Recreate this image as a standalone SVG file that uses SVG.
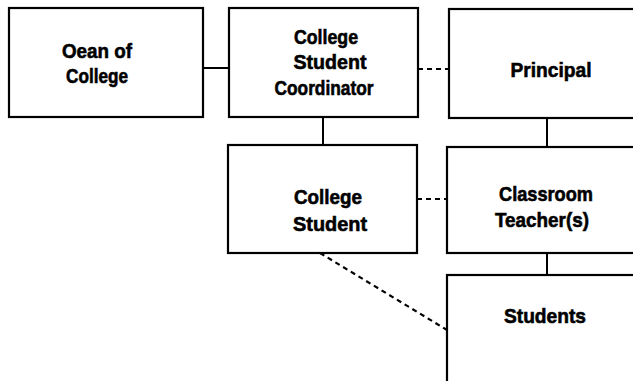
<svg xmlns="http://www.w3.org/2000/svg" width="633" height="381" viewBox="0 0 633 381">
  <style>
    .box { fill: #fff; stroke: #000; stroke-width: 2.2; }
    .solid { stroke: #000; stroke-width: 2; fill: none; }
    .dash { stroke: #000; stroke-width: 2.2; fill: none; stroke-dasharray: 5 4; }
    .lbl { font-family: "Liberation Sans", Arial, sans-serif; font-weight: bold; font-size: 20.5px; fill: #000; stroke: #000; stroke-width: 0.6; text-anchor: middle; }
  </style>
  <rect width="633" height="381" fill="#fff"/>

  <!-- connectors -->
  <g id="connectors">
    <line class="solid" x1="203" y1="68" x2="229" y2="68"/>
    <line class="dash" x1="418" y1="69" x2="449" y2="69"/>
    <line class="solid" x1="323" y1="117" x2="323" y2="145"/>
    <line class="solid" x1="547" y1="118" x2="547" y2="147"/>
    <line class="dash" x1="417" y1="199" x2="447" y2="199"/>
    <line class="solid" x1="547" y1="253" x2="547" y2="275"/>
    <line class="dash" x1="320" y1="253" x2="447" y2="330"/>
  </g>

  <g id="dean">
    <rect class="box" x="9" y="8" width="194" height="109"/>
    <text class="lbl" x="97" y="58" textLength="70" lengthAdjust="spacingAndGlyphs">Oean of</text>
    <text class="lbl" x="97" y="83" textLength="62" lengthAdjust="spacingAndGlyphs">College</text>
  </g>

  <g id="coordinator">
    <rect class="box" x="229" y="8" width="189" height="109"/>
    <text class="lbl" x="326" y="44" textLength="64" lengthAdjust="spacingAndGlyphs">College</text>
    <text class="lbl" x="330" y="69" textLength="73" lengthAdjust="spacingAndGlyphs">Student</text>
    <text class="lbl" x="324" y="95" textLength="99" lengthAdjust="spacingAndGlyphs">Coordinator</text>
  </g>

  <g id="principal">
    <rect class="box" x="449" y="9" width="200" height="109"/>
    <text class="lbl" x="551" y="77" textLength="81" lengthAdjust="spacingAndGlyphs">Principal</text>
  </g>

  <g id="college-student">
    <rect class="box" x="228" y="145" width="189" height="108"/>
    <text class="lbl" x="328" y="204" textLength="68" lengthAdjust="spacingAndGlyphs">College</text>
    <text class="lbl" x="330" y="231" textLength="74" lengthAdjust="spacingAndGlyphs">Student</text>
  </g>

  <g id="teacher">
    <rect class="box" x="447" y="147" width="200" height="106"/>
    <text class="lbl" x="546" y="201" textLength="94" lengthAdjust="spacingAndGlyphs">Classroom</text>
    <text class="lbl" x="542" y="227" textLength="94" lengthAdjust="spacingAndGlyphs">Teacher(s)</text>
  </g>

  <g id="students">
    <rect class="box" x="447" y="275" width="200" height="120"/>
    <text class="lbl" x="545" y="323" textLength="82" lengthAdjust="spacingAndGlyphs">Students</text>
  </g>
</svg>
